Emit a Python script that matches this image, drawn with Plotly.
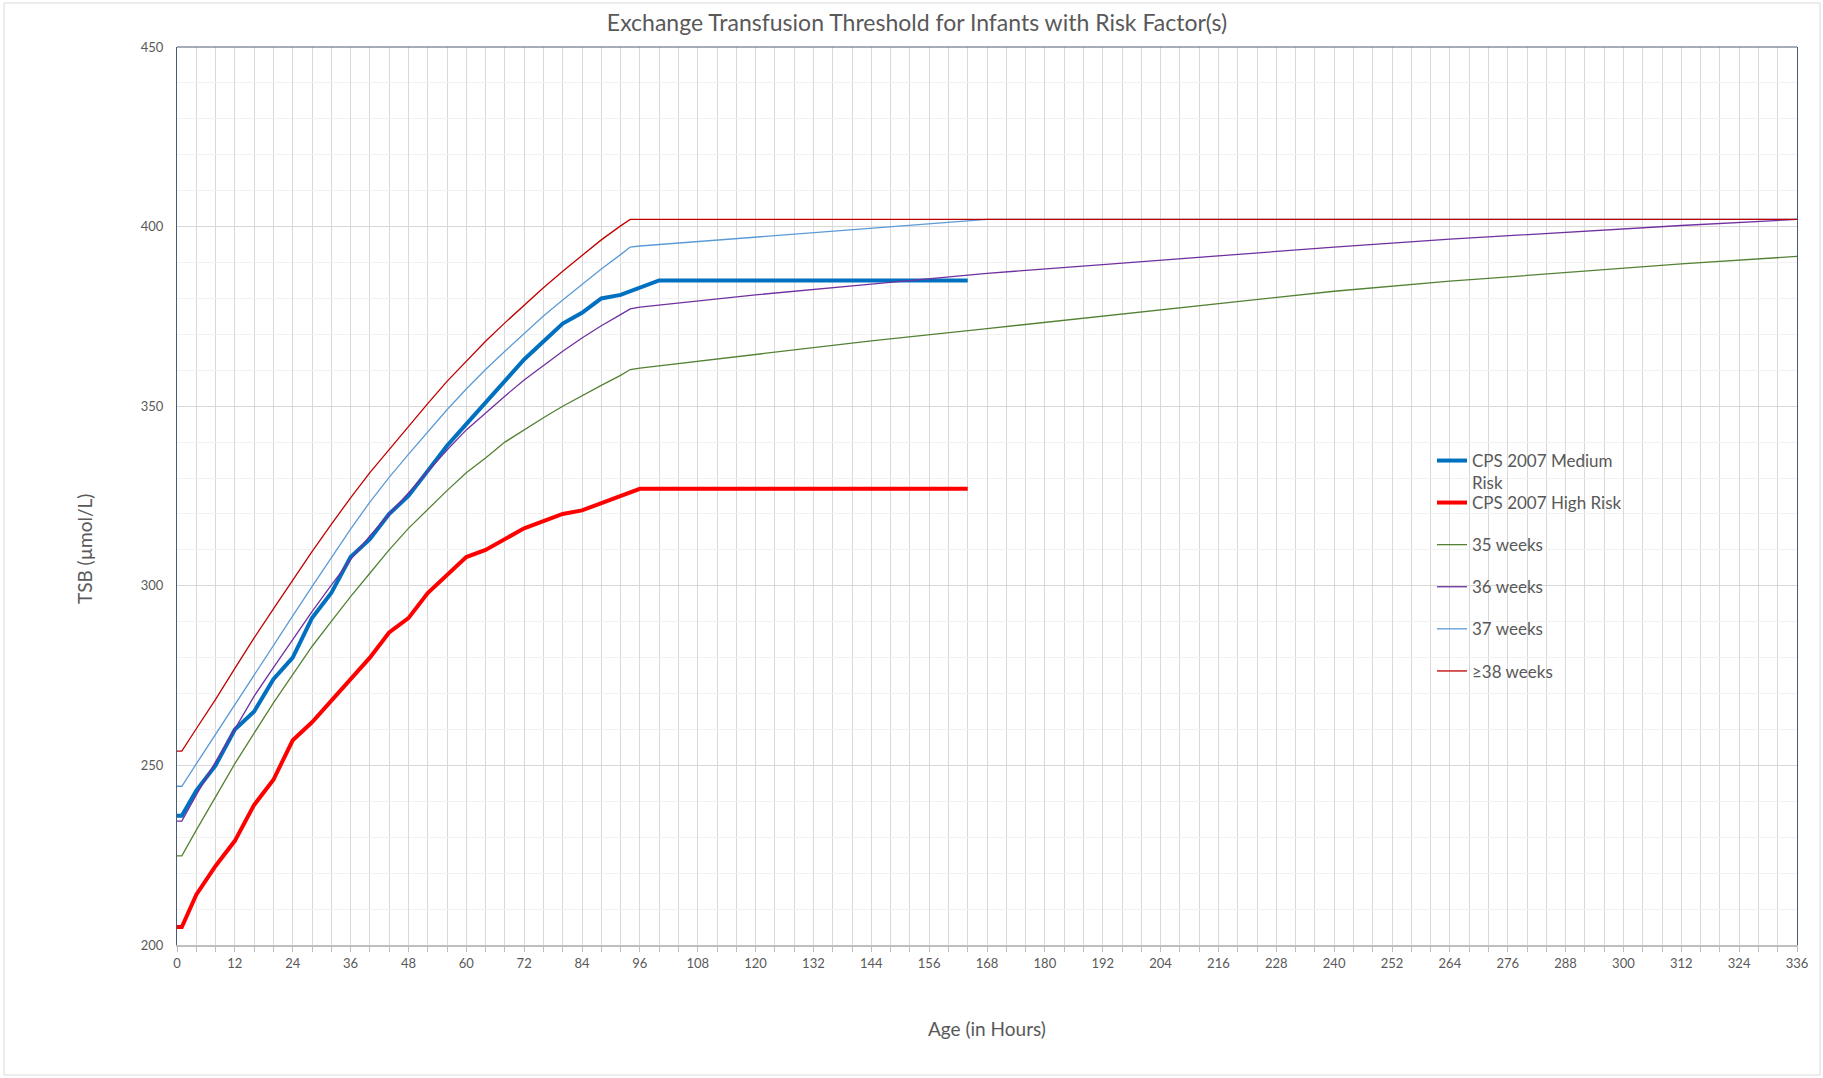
import plotly.graph_objects as go

# ---- CPS 2007 exchange transfusion thresholds (µmol/L) ----
cps_hours = [0, 1, 4, 8, 12, 16, 20, 24, 28, 32, 36, 40, 44, 48, 52, 56, 60,
             64, 68, 72, 76, 80, 84, 88, 92, 96, 100, 164]
cps_medium = [236, 236, 243, 250, 260, 265, 274, 280, 291, 298, 308, 313, 320,
              325, 332, 339, 345, 351, 357, 363, 368, 373, 376, 380, 381, 383,
              385, 385]
cps_high = [205, 205, 214, 222, 229, 239, 246, 257, 262, 268, 274, 280, 287,
            291, 298, 303, 308, 310, 313, 316, 318, 320, 321, 323, 325, 327,
            327, 327]

# ---- Thresholds by gestational age (µmol/L) ----
ga_hours = [0, 1, 4, 8, 12, 16, 20, 24, 28, 32, 36, 40, 44, 48, 52, 56, 60,
            64, 68, 72, 76, 80, 84, 88, 92, 94, 96, 120, 144, 168, 192, 216,
            240, 264, 288, 312, 336]
ga_35 = [224.8, 224.8, 232, 241.3, 250.5, 259, 267.4, 275.3, 283.1, 290.1,
         297, 303.5, 310, 316, 321.3, 326.5, 331.5, 335.6, 340, 343.5, 346.8,
         350, 353, 355.8, 358.6, 360.2, 360.6, 364.5, 368.2, 371.6, 375,
         378.4, 382, 384.8, 387.3, 389.6, 391.7]
ga_36 = [234.5, 234.5, 241.8, 251, 260.5, 269.3, 277.2, 285, 292.8, 300.2,
         307.3, 313.9, 319.9, 325.8, 332, 337.8, 343.4, 348.2, 352.8, 357.3,
         361.4, 365.3, 369, 372.4, 375.5, 377.1, 377.6, 381, 384, 387, 389.4,
         391.9, 394.3, 396.5, 398.5, 400.3, 402]
ga_37 = [244.2, 244.2, 250.4, 258.7, 267, 275.2, 283.4, 291.6, 299.8, 307.9,
         315.8, 323.3, 330.2, 336.6, 342.8, 349, 354.8, 360.2, 365.3, 370.3,
         375.1, 379.6, 384, 388.2, 392.2, 394.3, 394.6, 397.1, 399.5, 402, 402,
         402, 402, 402, 402, 402, 402]
ga_38 = [254, 254, 260.2, 268.4, 277, 285.5, 293.6, 301.7, 309.5, 317.1,
         324.5, 331.5, 338, 344.3, 350.7, 356.9, 362.5, 368.1, 373.2, 378.1,
         383, 387.6, 392, 396.3, 400.2, 402, 402, 402, 402, 402, 402, 402, 402,
         402, 402, 402, 402]

FONT = "Lato"
TEXT = "#595959"

# plot-area geometry in pixels
W, H = 1823, 1078
ML, MR, MT, MB = 177, 26, 47, 133
PW, PH = W - ML - MR, H - MT - MB


def px_x(x):
    return (x - ML) / PW


def px_y(y):
    return (H - MB - y) / PH


fig = go.Figure()

fig.add_trace(go.Scatter(
    x=cps_hours, y=cps_medium, mode="lines", name="CPS 2007 Medium<br>Risk",
    line=dict(color="#0070C0", width=4), legend="legend", showlegend=True))
fig.add_trace(go.Scatter(
    x=cps_hours, y=cps_high, mode="lines", name="CPS 2007 High Risk",
    line=dict(color="#FF0000", width=4), legend="legend2", legendgroup="g1"))
fig.add_trace(go.Scatter(
    x=ga_hours, y=ga_35, mode="lines", name="35 weeks",
    line=dict(color="#548235", width=1.3), legend="legend2", legendgroup="g2"))
fig.add_trace(go.Scatter(
    x=ga_hours, y=ga_36, mode="lines", name="36 weeks",
    line=dict(color="#7030A0", width=1.3), legend="legend2", legendgroup="g3"))
fig.add_trace(go.Scatter(
    x=ga_hours, y=ga_37, mode="lines", name="37 weeks",
    line=dict(color="#5B9BD5", width=1.3), legend="legend2", legendgroup="g4"))
fig.add_trace(go.Scatter(
    x=ga_hours, y=ga_38, mode="lines", name="≥38 weeks",
    line=dict(color="#C00000", width=1.3), legend="legend2", legendgroup="g5"))

legend_common = dict(
    xanchor="left", yanchor="top", bgcolor="rgba(0,0,0,0)",
    font=dict(family=FONT, size=17, color=TEXT), itemwidth=30,
    visible=True,
)

fig.update_layout(
    width=W, height=H,
    showlegend=True,
    margin=dict(l=ML, r=MR, t=MT, b=MB),
    paper_bgcolor="white", plot_bgcolor="white",
    title=dict(
        text="Exchange Transfusion Threshold for Infants with Risk Factor(s)",
        font=dict(family=FONT, size=23, color=TEXT),
        x=px_x(917), xref="paper", xanchor="center",
        y=1 - 23 / H, yref="container", yanchor="middle"),
    xaxis=dict(
        range=[0, 336], tick0=0, dtick=12, showgrid=True,
        gridcolor="#D9D9D9", gridwidth=1, zeroline=False,
        showline=True, linecolor="#BFBFBF", linewidth=2,
        ticks="outside", ticklen=5, tickcolor="#BFBFBF",
        tickfont=dict(family=FONT, size=13, color=TEXT),
        minor=dict(tick0=0, dtick=4, showgrid=True, gridcolor="#D9D9D9",
                   ticks="outside", ticklen=5, tickcolor="#BFBFBF"),
    ),
    yaxis=dict(
        range=[200, 450], tick0=200, dtick=50, showgrid=True,
        gridcolor="#D9D9D9", gridwidth=1, zeroline=False,
        showline=True, linecolor="#4A5A70", linewidth=1, mirror=True,
        ticks="", ticklabelstandoff=10,
        tickfont=dict(family=FONT, size=13, color=TEXT),
        minor=dict(tick0=200, dtick=10, showgrid=True, gridcolor="#F2F2F2"),
    ),
    legend=dict(x=px_x(1432), y=px_y(443), valign="top", **legend_common),
    legend2=dict(x=px_x(1432), y=px_y(485), tracegroupgap=17,
                 traceorder="grouped", **legend_common),
    annotations=[
        dict(text="TSB (µmol/L)", xref="paper", yref="paper",
             x=px_x(84), y=px_y(549), textangle=-90, showarrow=False,
             xanchor="center", yanchor="middle",
             font=dict(family=FONT, size=19, color=TEXT)),
        dict(text="Age (in Hours)", xref="paper", yref="paper",
             x=0.5, y=px_y(1028), showarrow=False,
             xanchor="center", yanchor="middle",
             font=dict(family=FONT, size=19, color=TEXT)),
    ],
    shapes=[
        # top edge of the plot frame
        dict(type="line", xref="paper", yref="paper", x0=0, x1=1, y0=1, y1=1,
             line=dict(color="#4A5A70", width=1), layer="above"),
        # chart-area border
        dict(type="rect", xref="paper", yref="paper",
             x0=px_x(4), x1=px_x(1820), y0=px_y(1075), y1=px_y(3),
             line=dict(color="#D9D9D9", width=1), layer="below"),
    ],
)

fig.write_html("out.html")
